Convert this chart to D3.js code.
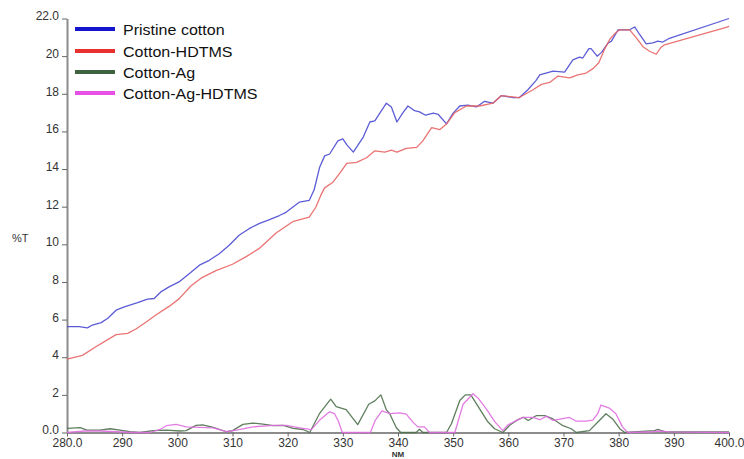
<!DOCTYPE html>
<html>
<head>
<meta charset="utf-8">
<script src="https://cdn.jsdelivr.net/npm/d3@7"></script>
<style>
  body { margin: 0; background: #fff; }
  svg { display: block; }
  text { font-family: "Liberation Sans", Arial, sans-serif; }
</style>
</head>
<body>
<svg id="chart" width="744" height="459"></svg>
<script>
// Transmittance spectra (%T vs wavelength, nm)
const seriesNames = ["Pristine cotton", "Cotton-HDTMS", "Cotton-Ag", "Cotton-Ag-HDTMS"];

const pristineNm = [280, 282.2, 283.7, 284.6, 286.2, 287.4, 288.9, 290.4, 292.8, 294.6, 295.8, 297.0, 298.5, 300.3, 302.2, 304.0, 305.8, 307.6, 309.4, 311.2, 313.0, 314.8, 316.6, 318.5, 319.7, 322.1, 323.9, 324.8, 325.8, 326.7, 327.6, 329.1, 330.0, 330.7, 331.9, 333.7, 334.9, 335.8, 337.0, 337.9, 338.8, 339.8, 340.9, 341.8, 343.0, 343.9, 345.0, 346.4, 347.3, 348.8, 350.0, 351.2, 352.7, 354.2, 355.7, 357.2, 358.7, 360.9, 362.0, 363.5, 365.0, 365.7, 368.1, 370.2, 371.7, 372.9, 373.5, 374.6, 375.0, 376.1, 376.9, 378.1, 378.7, 379.9, 381.1, 382.0, 382.9, 383.8, 385.0, 386.2, 387.1, 388.0, 389.2, 400];
const pristineT  = [5.63, 5.63, 5.56, 5.71, 5.84, 6.07, 6.5, 6.68, 6.9, 7.09, 7.12, 7.47, 7.74, 8.0, 8.45, 8.89, 9.15, 9.5, 9.95, 10.48, 10.83, 11.1, 11.3, 11.53, 11.7, 12.24, 12.33, 12.9, 14.1, 14.7, 14.8, 15.5, 15.6, 15.3, 14.9, 15.7, 16.5, 16.56, 17.1, 17.5, 17.3, 16.5, 17.0, 17.35, 17.1, 17.04, 16.86, 16.97, 16.9, 16.4, 16.97, 17.35, 17.4, 17.3, 17.6, 17.5, 17.9, 17.8, 17.8, 18.2, 18.7, 19.0, 19.2, 19.15, 19.8, 19.95, 19.9, 20.4, 20.4, 20.0, 20.2, 20.7, 20.8, 21.4, 21.4, 21.4, 21.55, 21.15, 20.65, 20.7, 20.8, 20.75, 20.95, 22.0];

const hdtmsNm = [280, 282.8, 285.3, 288.9, 291.0, 292.5, 294.3, 296.1, 298.5, 300.3, 302.5, 304.3, 307.0, 310.0, 312.4, 314.8, 317.9, 320.9, 323.9, 325.1, 326.0, 326.7, 328.2, 329.5, 330.7, 332.5, 334.3, 335.8, 337.6, 338.8, 339.8, 341.5, 343.4, 344.5, 346.1, 347.6, 348.8, 350.3, 352.4, 354.8, 357.2, 358.7, 362.0, 364.4, 366.0, 367.5, 369.0, 371.1, 372.6, 374.1, 375.4, 376.4, 377.5, 378.4, 379.3, 380.2, 382.0, 383.2, 384.4, 385.6, 386.8, 387.6, 388.3, 399.8, 400];
const hdtmsT  = [3.9, 4.1, 4.57, 5.2, 5.27, 5.5, 5.86, 6.24, 6.7, 7.1, 7.8, 8.2, 8.6, 8.94, 9.33, 9.77, 10.6, 11.2, 11.45, 11.97, 12.6, 13.0, 13.3, 13.8, 14.3, 14.35, 14.6, 14.97, 14.9, 15.0, 14.9, 15.1, 15.15, 15.5, 16.2, 16.1, 16.4, 17.0, 17.35, 17.35, 17.5, 17.9, 17.8, 18.2, 18.5, 18.6, 18.94, 18.85, 19.0, 19.1, 19.35, 19.65, 20.4, 20.9, 21.2, 21.4, 21.4, 20.97, 20.5, 20.26, 20.1, 20.44, 20.6, 21.55, 21.6];

const agNm = [280, 282.4, 283.6, 286.0, 287.8, 289.6, 291.4, 293.2, 295.6, 298.0, 300.5, 301.6, 303.4, 304.6, 306.5, 308.9, 310.0, 311.9, 313.7, 315.5, 317.4, 319.2, 321.0, 322.8, 324.0, 325.8, 327.8, 328.8, 330.6, 332.7, 334.7, 335.8, 336.9, 337.9, 338.5, 339.7, 340.5, 343.3, 343.9, 344.5, 348.8, 349.7, 351.2, 352.2, 353.2, 354.6, 356.2, 357.5, 359.0, 360.3, 361.5, 362.7, 363.6, 365.1, 366.6, 368.1, 369.9, 371.4, 372.3, 374.7, 376.5, 377.7, 378.9, 380.2, 381.1, 386.5, 387.1, 388.3, 400];
const agT  = [0.22, 0.26, 0.13, 0.13, 0.2, 0.13, 0.04, 0, 0.1, 0.13, 0.08, 0.1, 0.38, 0.4, 0.27, 0.04, 0.1, 0.43, 0.5, 0.45, 0.36, 0.38, 0.22, 0.16, 0, 1.02, 1.77, 1.37, 1.22, 0.42, 1.5, 1.68, 2.0, 1.2, 1.0, 0.25, 0, 0, 0.17, 0, 0, 0.48, 1.7, 2.0, 2.0, 1.35, 0.6, 0.2, 0, 0.4, 0.64, 0.81, 0.64, 0.9, 0.9, 0.72, 0.36, 0.2, 0, 0.1, 0.64, 1.0, 0.72, 0.2, 0, 0.1, 0.17, 0.05, 0.03];

const agHdtmsNm = [280, 283.2, 286.0, 289.0, 292.0, 295.0, 296.9, 298.0, 299.8, 301.6, 304.0, 306.5, 308.9, 310.7, 313.7, 317.4, 319.8, 322.2, 324.3, 325.8, 327.6, 328.5, 329.2, 329.9, 335.0, 335.9, 337.1, 338.5, 340.3, 341.5, 342.7, 343.6, 344.8, 345.7, 350.3, 351.8, 353.6, 354.6, 356.0, 357.6, 359.0, 359.9, 361.2, 362.7, 364.5, 365.7, 366.9, 368.1, 369.6, 371.1, 372.3, 374.1, 375.3, 376.2, 376.8, 378.3, 379.5, 380.7, 381.6, 386.2, 387.4, 389.2, 400];
const agHdtmsT  = [0, 0.08, 0.08, 0.04, 0, 0, 0.16, 0.36, 0.43, 0.3, 0.27, 0.25, 0.04, 0.13, 0.3, 0.38, 0.38, 0.25, 0.15, 0.66, 1.1, 1.0, 0.6, 0, 0, 0.66, 1.15, 1.0, 1.04, 0.98, 0.55, 0.3, 0.3, 0, 0, 1.5, 2.06, 1.8, 1.25, 0.55, 0.1, 0.4, 0.6, 0.8, 0.8, 0.68, 0.86, 0.64, 0.72, 0.8, 0.6, 0.6, 0.66, 1.0, 1.46, 1.3, 1.0, 0.3, 0, 0.04, 0.08, 0.03, 0];

const xTickValues = [280, 290, 300, 310, 320, 330, 340, 350, 360, 370, 380, 390, 400];
const yTickValues = [0, 2, 4, 6, 8, 10, 12, 14, 16, 18, 20, 22];

const lineColors   = ["#4a4ad2", "#e86464", "#4d704d", "#e06ee0"];
const legendColors = ["#1414cc", "#e8302e", "#3e633e", "#e650e6"];

const svg = d3.select("#chart");

const x = d3.scaleLinear().domain([280, 400]).range([67, 729]);
const y = d3.scaleLinear().domain([0, 22]).range([432.5, 18.5]);

// y axis
const yAxis = svg.append("g")
  .attr("transform", `translate(${x(280)},0)`)
  .call(d3.axisLeft(y)
    .tickValues(yTickValues)
    .tickSize(5)
    .tickSizeOuter(0)
    .tickPadding(3)
    .tickFormat(d => (d === 0 || d === 22) ? d.toFixed(1) : String(d)));

// x axis
const xAxis = svg.append("g")
  .attr("transform", `translate(0,${y(0)})`)
  .call(d3.axisBottom(x)
    .tickValues(xTickValues)
    .tickSize(4)
    .tickSizeOuter(0)
    .tickPadding(2)
    .tickFormat(d => (d === 280 || d === 400) ? d.toFixed(1) : String(d)));

[yAxis, xAxis].forEach(g => {
  g.select(".domain").attr("stroke", "#8c8c8c").attr("stroke-width", 2);
  g.selectAll(".tick line").attr("stroke", "#666").attr("stroke-width", 1);
  g.selectAll(".tick text")
    .attr("fill", "#333")
    .style("font-size", "12px")
    .style("font-family", "'Liberation Sans', Arial, sans-serif");
});
yAxis.selectAll(".tick text").attr("dy", "0.12em");

// axis titles
svg.append("text")
  .attr("x", 12).attr("y", 242)
  .attr("fill", "#333")
  .style("font-size", "11px")
  .text("%T");

svg.append("text")
  .attr("x", (x(280) + x(400)) / 2).attr("y", 457)
  .attr("text-anchor", "middle")
  .attr("fill", "#333")
  .style("font-size", "8px")
  .style("font-weight", "bold")
  .text("NM");

// spectra
const line = d3.line()
  .x(d => x(d[0]))
  .y(d => y(d[1]));

const series = [
  [pristineNm, pristineT],
  [hdtmsNm, hdtmsT],
  [agNm, agT],
  [agHdtmsNm, agHdtmsT]
];

series.forEach(([nm, t], i) => {
  svg.append("path")
    .datum(nm.map((w, k) => [w, t[k]]))
    .attr("fill", "none")
    .attr("stroke", lineColors[i])
    .attr("stroke-width", 1.3)
    .attr("stroke-linejoin", "round")
    .attr("opacity", 0.9)
    .attr("d", line);
});

// legend
const legendY = [29, 51, 72, 93];
const legend = svg.append("g");
seriesNames.forEach((name, i) => {
  legend.append("line")
    .attr("x1", 75).attr("x2", 115)
    .attr("y1", legendY[i]).attr("y2", legendY[i])
    .attr("stroke", legendColors[i])
    .attr("stroke-width", 4);
  legend.append("text")
    .attr("transform", `translate(123,${legendY[i] + 5.5}) scale(1.07,1)`)
    .attr("fill", "#111")
    .style("font-size", "15px")
    .text(name);
});
</script>
</body>
</html>
